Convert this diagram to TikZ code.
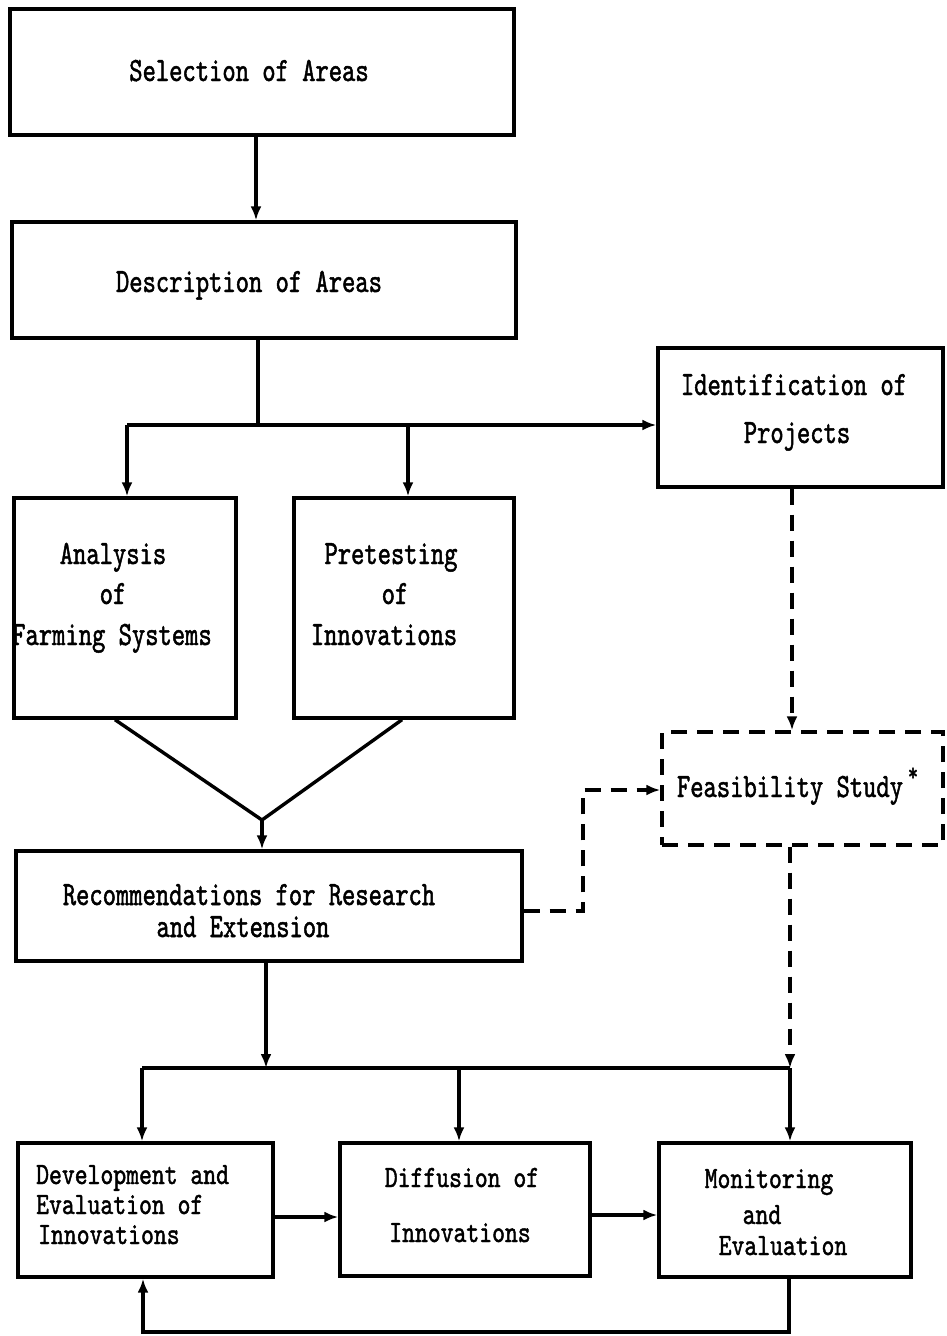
\documentclass[tikz,border=0pt]{standalone}
\usepackage{fontspec}
\newfontfamily\tw{lmmono10-regular.otf}[FakeStretch=0.745,FakeBold=1.4]
\newfontfamily\twb{lmmono10-regular.otf}[FakeStretch=0.79,FakeBold=1.4]
\usetikzlibrary{arrows.meta}
\begin{document}
\begin{tikzpicture}[x=1pt,y=-1pt,
  box/.style={draw, line width=3.4pt, inner sep=0pt},
  dbox/.style={box, dash pattern=on 16pt off 10pt},
  ln/.style={line width=3.4pt},
  arr/.style={ln, -{Latex[length=14pt,width=11pt]}},
  dln/.style={ln, dash pattern=on 16pt off 10pt},
  darr/.style={dln, -{Latex[length=14pt,width=11pt]}},
  txt/.style={anchor=base, inner sep=0pt, font=\tw\fontsize{34}{40}\selectfont},
  stxt/.style={anchor=base, inner sep=0pt, font=\twb\fontsize{31}{36}\selectfont},
  ltxt/.style={stxt, anchor=base west}]
\useasboundingbox (0,0) rectangle (946,1336);
% boxes
\node[box, minimum width=504pt, minimum height=126pt] (sel) at (262,72) {};
\node[box, minimum width=504pt, minimum height=116pt] (desc) at (264,280) {};
\node[box, minimum width=285pt, minimum height=139pt] (ident) at (800.5,417.5) {};
\node[box, minimum width=222pt, minimum height=220pt] (anal) at (125,608) {};
\node[box, minimum width=220pt, minimum height=220pt] (pret) at (404,608) {};
\node[dbox, minimum width=281pt, minimum height=113pt] (feas) at (802.5,788.5) {};
\node[box, minimum width=506pt, minimum height=110pt] (rec) at (269,906) {};
\node[box, minimum width=255pt, minimum height=134pt] (dev) at (145.5,1210) {};
\node[box, minimum width=250pt, minimum height=133pt] (diff) at (465,1209.5) {};
\node[box, minimum width=252pt, minimum height=134pt] (mon) at (785,1210) {};
% texts
\node[txt] (t1) at (249,81) {Selection of Areas};
\node[txt] (t2) at (249,292) {Description of Areas};
\node[txt] (t3) at (794,395) {Identification of};
\node[txt] (t4) at (797,443) {Projects};
\node[txt] (t5) at (113,564) {Analysis};
\node[txt] (t6) at (113,604) {of};
\node[txt] (t7) at (112,645) {Farming Systems};
\node[txt] (t8) at (391,564) {Pretesting};
\node[txt] (t9) at (395,604) {of};
\node[txt] (t10) at (384,645) {Innovations};
\node[txt] (t11) at (790,797) {Feasibility Study};
\node[txt, font=\tw\fontsize{26}{30}\selectfont] (t12) at (913,781) {*};
\node[txt] (t13) at (249,905) {Recommendations for Research};
\node[txt] (t14) at (243,937) {and Extension};
\node[ltxt] (t15) at (36,1184) {Development and};
\node[ltxt] (t16) at (36,1214) {Evaluation of};
\node[ltxt] (t17) at (38,1244) {Innovations};
\node[stxt] (t18) at (462,1187) {Diffusion of};
\node[stxt] (t19) at (460,1242) {Innovations};
\node[stxt] (t20) at (769,1188) {Monitoring};
\node[stxt] (t21) at (762,1224) {and};
\node[stxt] (t22) at (783,1255) {Evaluation};
% coordinates
\coordinate (k1) at (256,0);
\coordinate (br1) at (258,425);
\coordinate (brL) at (127,425);
\coordinate (brM) at (408,425);
\coordinate (va) at (115,0);
\coordinate (vb) at (402,0);
\coordinate (v) at (262,820);
\coordinate (dc) at (792,0);
\coordinate (r1) at (583,911);
\coordinate (r2) at (583,790);
\coordinate (br2) at (266,1068);
\coordinate (br2L) at (142,1068);
\coordinate (br2M) at (459,1068);
\coordinate (br2R) at (790,1068);
\coordinate (h1) at (0,1217);
\coordinate (h2) at (0,1215);
\coordinate (l1) at (789,1332);
\coordinate (l2) at (143,1332);
% connectors
\draw[arr] (sel.south -| k1) -- (desc.north -| k1);
\draw[ln] (desc.south -| br1) -- (br1);
\draw[arr] (brL) -- (ident.west |- brL);
\draw[arr] (brL) -- (anal.north -| brL);
\draw[arr] (brM) -- (pret.north -| brM);
\draw[ln] (anal.south -| va) -- (v) -- (pret.south -| vb);
\draw[arr] (v) -- (rec.north -| v);
\draw[darr] (ident.south -| dc) -- (feas.north -| dc);
\draw[darr] (rec.east |- r1) -- (r1) -- (r2) -- (feas.west |- r2);
\draw[darr] (feas.south -| br2R) -- (br2R);
\draw[arr] (rec.south -| br2) -- (br2);
\draw[ln] (br2L) -- (br2R);
\draw[arr] (br2L) -- (dev.north -| br2L);
\draw[arr] (br2M) -- (diff.north -| br2M);
\draw[arr] (br2R) -- (mon.north -| br2R);
\draw[arr] (dev.east |- h1) -- (diff.west |- h1);
\draw[arr] (diff.east |- h2) -- (mon.west |- h2);
\draw[arr] (mon.south -| l1) -- (l1) -- (l2) -- (dev.south -| l2);
\end{tikzpicture}
\end{document}
